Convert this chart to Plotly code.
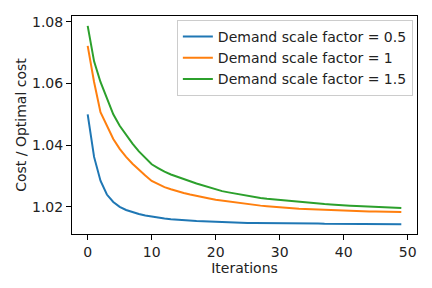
import plotly.graph_objects as go

iterations = list(range(50))

labels = ["Demand scale factor = 0.5", "Demand scale factor = 1", "Demand scale factor = 1.5"]

blue = [1.0500, 1.0362, 1.0285, 1.0240, 1.0216, 1.0200, 1.0190, 1.0183, 1.0177, 1.0172,
        1.0168, 1.0165, 1.0162, 1.0160, 1.0158, 1.0156, 1.0155, 1.0154, 1.0153, 1.0152,
        1.0151, 1.0150, 1.0150, 1.0149, 1.0149, 1.0148, 1.0148, 1.0148, 1.0147, 1.0147,
        1.0147, 1.0147, 1.0146, 1.0146, 1.0146, 1.0146, 1.0146, 1.0145, 1.0145, 1.0145,
        1.0145, 1.0145, 1.0145, 1.0145, 1.0144, 1.0144, 1.0144, 1.0144, 1.0144, 1.0144]

orange = [1.0722, 1.0605, 1.0507, 1.0462, 1.0420, 1.0388, 1.0362, 1.0340, 1.0320, 1.0302,
          1.0284, 1.0273, 1.0264, 1.0257, 1.0250, 1.0245, 1.0240, 1.0235, 1.0231, 1.0227,
          1.0223, 1.0220, 1.0217, 1.0214, 1.0211, 1.0209, 1.0206, 1.0204, 1.0202, 1.0200,
          1.0198, 1.0197, 1.0196, 1.0194, 1.0193, 1.0192, 1.0191, 1.0190, 1.0189, 1.0188,
          1.0188, 1.0187, 1.0186, 1.0186, 1.0185, 1.0185, 1.0184, 1.0184, 1.0183, 1.0183]

green = [1.0787, 1.0672, 1.0605, 1.0550, 1.0500, 1.0463, 1.0432, 1.0405, 1.0380, 1.0358,
         1.0338, 1.0326, 1.0314, 1.0305, 1.0297, 1.0290, 1.0283, 1.0276, 1.0270, 1.0264,
         1.0256, 1.0251, 1.0247, 1.0243, 1.0239, 1.0236, 1.0232, 1.0229, 1.0226, 1.0224,
         1.0221, 1.0219, 1.0217, 1.0215, 1.0213, 1.0212, 1.0210, 1.0209, 1.0208, 1.0206,
         1.0205, 1.0204, 1.0203, 1.0202, 1.0201, 1.0200, 1.0199, 1.0198, 1.0197, 1.0196]

colors = ["#1f77b4", "#ff7f0e", "#2ca02c"]
series = [blue, orange, green]

fig = go.Figure()
for lab, ys, c in zip(labels, series, colors):
    fig.add_trace(go.Scatter(x=iterations, y=ys, mode="lines", name=lab,
                             line=dict(color=c, width=2)))

axis_common = dict(showgrid=False, zeroline=False, showline=True, linecolor="black",
                   linewidth=1.1, mirror=True, ticks="outside", ticklen=5, tickwidth=1.1,
                   tickcolor="black", tickfont=dict(size=14, color="#222222"),
                   automargin=False)

fig.update_layout(
    width=432, height=288,
    margin=dict(l=72, r=15, t=16, b=54),
    paper_bgcolor="white", plot_bgcolor="white",
    font=dict(family="DejaVu Sans", size=14, color="#222222"),
    showlegend=True,
    legend=dict(x=0.988, y=0.982, xanchor="right", yanchor="top",
                bordercolor="#cccccc", borderwidth=1, bgcolor="rgba(255,255,255,0.8)",
                font=dict(size=14), tracegroupgap=0, itemwidth=30),
    xaxis=dict(range=[-2.45, 51.45], tickvals=[0, 10, 20, 30, 40, 50],
               title=dict(text="Iterations", standoff=2, font=dict(size=14)), **axis_common),
    yaxis=dict(range=[1.0112, 1.0819], tickvals=[1.02, 1.04, 1.06, 1.08], tickformat=".2f",
               title=dict(text="Cost / Optimal cost", standoff=2, font=dict(size=14)), **axis_common),
)

fig.write_html("out.html", config={"displayModeBar": False},
               post_script="document.body.style.margin='0px';")
